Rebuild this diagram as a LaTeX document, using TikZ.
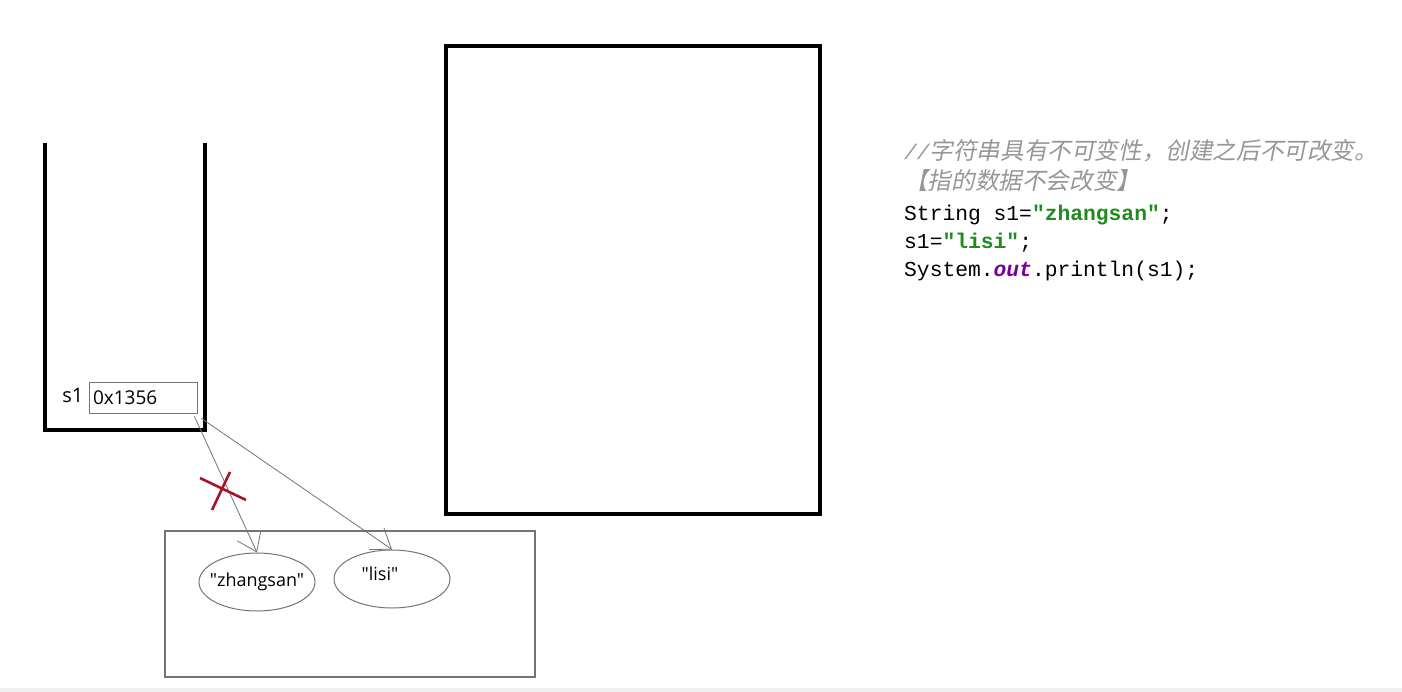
\documentclass[tikz,border=0pt]{standalone}
\usepackage{fontspec}
\setmainfont{Open Sans}[Ligatures=TeXOff]
\newfontfamily\codefont{Liberation Mono}
\newfontfamily\cjk[FakeSlant=0.2]{Noto Sans CJK SC}
\usetikzlibrary{shapes.geometric,arrows.meta,positioning}
\definecolor{cmtgray}{RGB}{150,150,150}
\definecolor{strgreen}{RGB}{30,140,30}
\definecolor{fieldpurple}{RGB}{120,0,150}
\definecolor{linegray}{RGB}{115,115,115}
\definecolor{cutred}{RGB}{165,20,40}
\definecolor{stripgray}{RGB}{240,240,240}
\tikzset{frame/.style={draw=black,line width=4pt},
	pool/.style={draw=linegray,line width=1.3pt},
	addr/.style={draw=linegray,line width=0.8pt,rectangle,inner xsep=4pt,
		text width=100pt,minimum height=31pt,align=left,font=\fontsize{19}{22}\selectfont},
	strobj/.style={ellipse,draw=linegray,line width=1pt,minimum width=116pt,
		minimum height=58pt,inner sep=0pt},
	strtext/.style={inner sep=0pt,font=\fontsize{18}{21}\selectfont},
	ref/.style={draw=linegray,line width=0.8pt,-{Straight Barb[length=18pt,width=26pt]}},
	cutmark/.style={draw=cutred,line width=2.6pt},
	code/.style={anchor=base west,inner sep=0pt,font=\codefont\fontsize{21.3}{25}\selectfont}}

\begin{document}
\begin{tikzpicture}[x=1pt,y=-1pt]
	\useasboundingbox (0,0) rectangle (1402,692);
	\fill[stripgray] (0,688) rectangle (1402,692);
	% stack
	\draw[frame] (45,143) -- (45,430) -- (205,430) -- (205,143);
	\node[addr] (addr) at (143,397.5) {0x1356};
	\node[left=5pt of addr,yshift=2pt,inner sep=0pt,font=\fontsize{20}{24}\selectfont] (s1) {s1};
	% heap
	\draw[frame] (446,46) rectangle (820,514);
	% string pool
	\draw[pool] (165,531) rectangle (535,677);
	\node[strobj,label={[strtext]center:"zhangsan"}] (zs) at (257,582) {};
	\node[strobj,label={[strtext,xshift=-12pt,yshift=5pt]center:"lisi"}] (ls) at (392,579) {};
	\draw[ref] ([xshift=-3pt,yshift=-3pt]addr.south east) -- (zs.north);
	\draw[ref] ([xshift=4pt,yshift=-5pt]addr.south east) -- (ls.north);
	\coordinate (cut) at (222,489);
	\draw[cutmark] ([shift={(-22,-11)}]cut) -- ([shift={(24,11)}]cut);
	\draw[cutmark] ([shift={(8,-17)}]cut) -- ([shift={(-10,21)}]cut);
	% code
	\node[code] (cmt1) at (904,160) {\color{cmtgray}{\itshape //}{\cjk\fontsize{23.6}{27}\selectfont 字符串具有不可变性，创建之后不可改变。}};
	\node[code] (cmt2) at (904,190) {\color{cmtgray}{\cjk\fontsize{23.6}{27}\selectfont 【指的数据不会改变】}};
	\node[code] (ln1) at (904,221) {String s1={\bfseries\color{strgreen}"zhangsan"};};
	\node[code] (ln2) at (904,249) {s1={\bfseries\color{strgreen}"lisi"};};
	\node[code] (ln3) at (904,277) {System.{\bfseries\itshape\color{fieldpurple}out}.println(s1);};
\end{tikzpicture}
\end{document}
